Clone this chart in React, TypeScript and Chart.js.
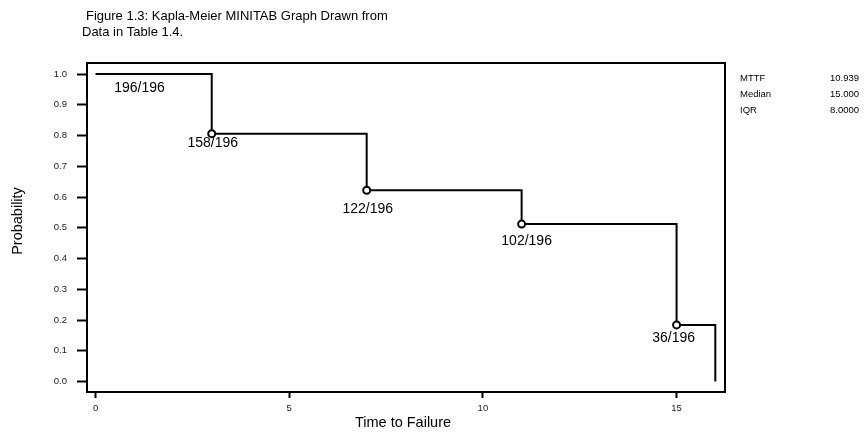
import React, { useEffect, useRef } from "react";
import { Chart, registerables } from "chart.js";

Chart.register(...registerables);

// ---- data ----
const times = [0, 3, 7, 11, 15, 16];
const survival = [1.0, 0.806, 0.622, 0.512, 0.184, 0.0];
const eventLabels = ["196/196", "158/196", "122/196", "102/196", "36/196"];
const xTicks = [0, 5, 10, 15];
const yTicks = [0.0, 0.1, 0.2, 0.3, 0.4, 0.5, 0.6, 0.7, 0.8, 0.9, 1.0];
const statNames = ["MTTF", "Median", "IQR"];
const statValues = ["10.939", "15.000", "8.0000"];
const titleLines = ["Figure 1.3: Kapla-Meier MINITAB Graph Drawn from", "Data in Table 1.4."];
const xTitle = "Time to Failure";
const yTitle = "Probability";

// ---- layout/style (pixel offsets for event labels) ----
const labelOffsets = [
  [44, 14],
  [1, 9],
  [1, 19],
  [5, 17],
  [-3, 13],
];
const FONT = '"Liberation Sans", Arial, sans-serif';

export default function App() {
  const ref = useRef<HTMLCanvasElement | null>(null);

  useEffect(() => {
    const canvas = ref.current;
    if (!canvas) return;

    const textPlugin = {
      id: "textPlugin",
      afterDraw(chart: any) {
        const ctx = chart.ctx;
        const a = chart.chartArea;
        const xs = chart.scales.x;
        const ys = chart.scales.y;
        ctx.save();
        // box
        ctx.strokeStyle = "#000";
        ctx.lineWidth = 2;
        ctx.strokeRect(a.left, a.top, a.right - a.left, a.bottom - a.top);

        // event labels
        ctx.fillStyle = "#000";
        ctx.font = `14px ${FONT}`;
        ctx.textAlign = "center";
        ctx.textBaseline = "middle";
        eventLabels.forEach((lab, i) => {
          const px = xs.getPixelForValue(times[i]);
          const py = ys.getPixelForValue(survival[i]);
          ctx.fillText(lab, px + labelOffsets[i][0], py + labelOffsets[i][1]);
        });

        // figure title
        ctx.textAlign = "left";
        ctx.font = `13px ${FONT}`;
        ctx.fillText(titleLines[0], 86, 16);
        ctx.fillText(titleLines[1], 82, 32);

        // axis titles
        ctx.font = `14.5px ${FONT}`;
        ctx.textAlign = "center";
        ctx.fillText(xTitle, 403, 423);
        ctx.save();
        ctx.translate(18, 221);
        ctx.rotate(-Math.PI / 2);
        ctx.fillText(yTitle, 0, 0);
        ctx.restore();

        // stats
        ctx.font = `9.5px ${FONT}`;
        ctx.textAlign = "left";
        statNames.forEach((n, i) => {
          const y = 78 + i * 16;
          ctx.fillText(n, 740, y);
          ctx.fillText(statValues[i], 830, y);
        });
        ctx.restore();
      },
    };

    const chart = new Chart(canvas, {
      type: "scatter",
      data: {
        datasets: [
          {
            data: times.map((t, i) => ({ x: t, y: survival[i] })),
            showLine: true,
            stepped: "before",
            borderColor: "#000",
            borderWidth: 2,
            pointRadius: times.map((_, i) => (i === 0 || i === times.length - 1 ? 0 : 3.5)),
            pointBackgroundColor: "#fff",
            pointBorderColor: "#000",
            pointBorderWidth: 2,
            clip: false as any,
          },
        ],
      },
      options: {
        animation: false,
        responsive: false,
        devicePixelRatio: 1,
        layout: { padding: { left: 0, top: 63, right: 141, bottom: 0 } },
        plugins: { legend: { display: false }, tooltip: { enabled: false }, title: { display: false } },
        scales: {
          x: {
            type: "linear",
            min: -0.22,
            max: 16.25,
            afterFit: (s: any) => {
              s.height = 40;
            },
            afterBuildTicks: (s: any) => {
              s.ticks = xTicks.map((v) => ({ value: v }));
            },
            ticks: {
              color: "#222",
              font: { size: 9.5, family: FONT },
              padding: 5,
              maxRotation: 0,
              callback: (v: any) => String(v),
            },
            grid: {
              drawOnChartArea: false,
              drawTicks: true,
              tickLength: 6,
              tickWidth: 2,
              tickColor: "#000",
            },
            border: { display: false },
          },
          y: {
            type: "linear",
            min: -0.0341,
            max: 1.0358,
            afterFit: (s: any) => {
              s.width = 87;
            },
            afterBuildTicks: (s: any) => {
              s.ticks = yTicks.map((v) => ({ value: v }));
            },
            ticks: {
              color: "#222",
              font: { size: 9.5, family: FONT },
              padding: 10,
              callback: (v: any) => Number(v).toFixed(1),
            },
            grid: {
              drawOnChartArea: false,
              drawTicks: true,
              tickLength: 10,
              tickWidth: 2,
              tickColor: "#000",
            },
            border: { display: false },
          },
        },
      },
      plugins: [textPlugin],
    });

    return () => chart.destroy();
  }, []);

  return (
    <div style={{ position: "absolute", left: 0, top: 0, width: 866, height: 432, background: "#fff" }}>
      <canvas ref={ref} width={866} height={432} style={{ display: "block" }} />
    </div>
  );
}
